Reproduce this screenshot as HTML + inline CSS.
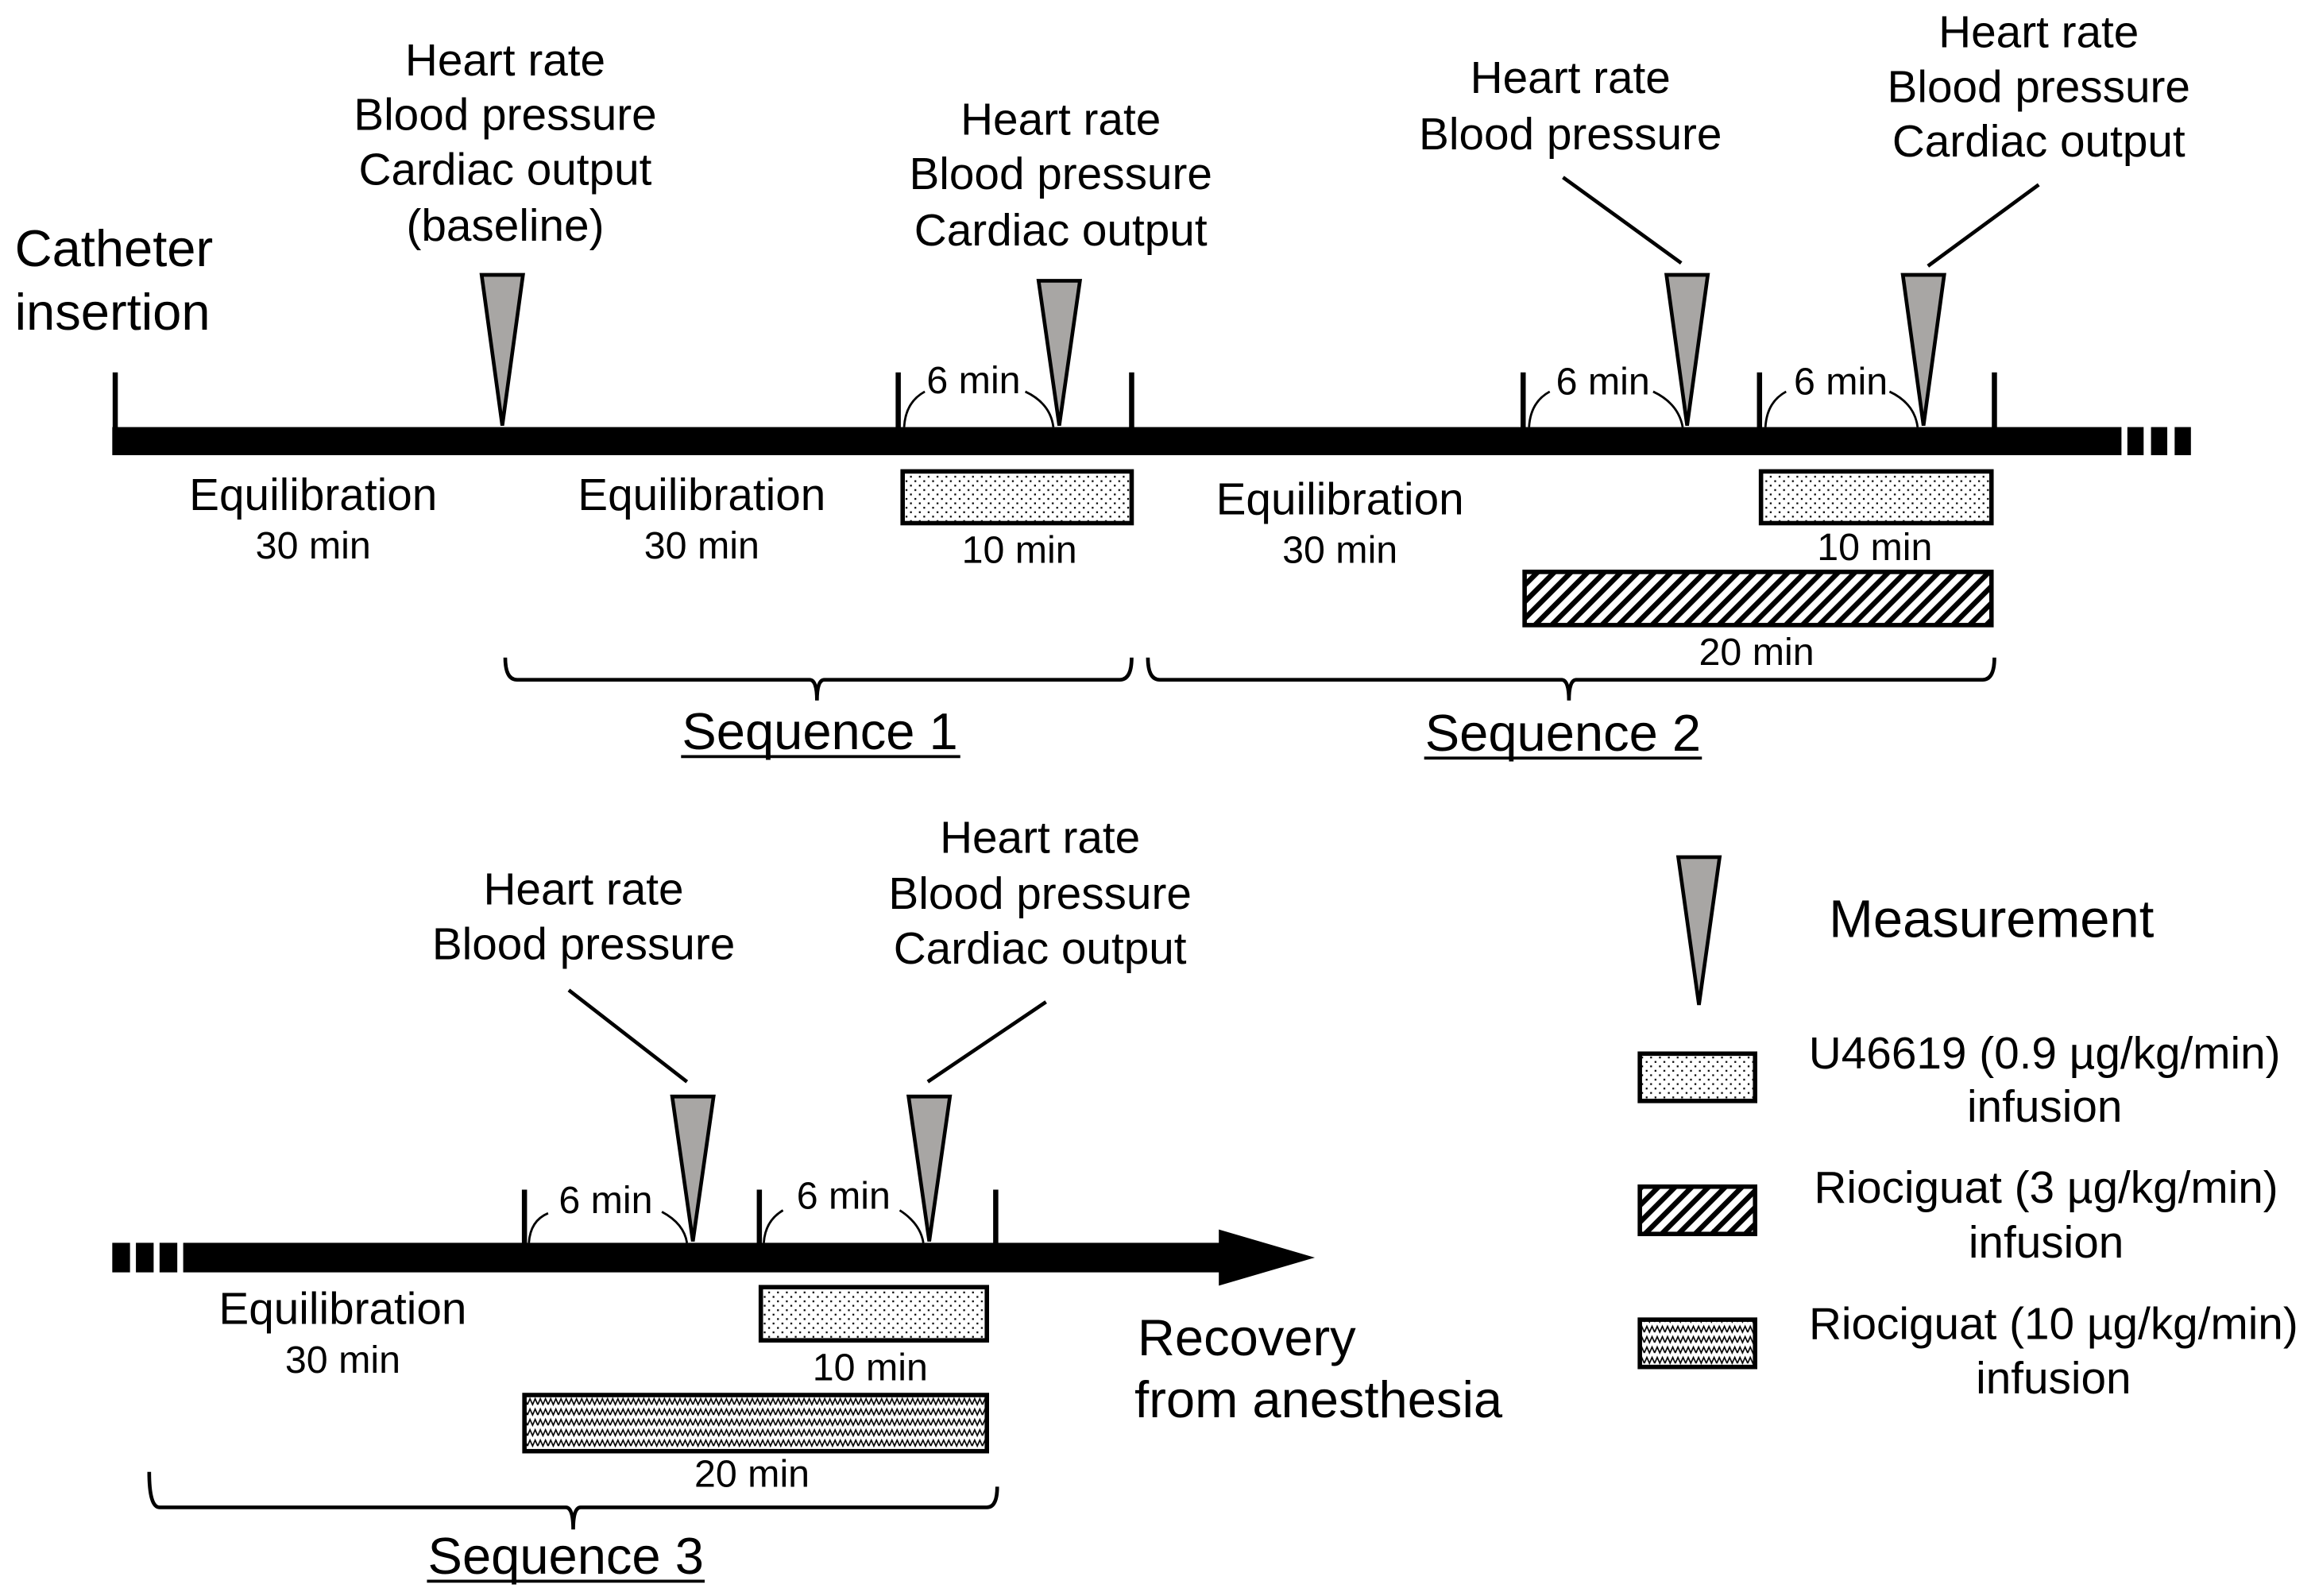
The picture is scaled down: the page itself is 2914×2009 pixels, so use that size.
<!DOCTYPE html>
<html><head><meta charset="utf-8"><style>html,body{margin:0;padding:0;background:#fff}svg{display:block}</style></head>
<body>
<svg width="2914" height="2009" viewBox="0 0 1567 1080" preserveAspectRatio="none" xmlns="http://www.w3.org/2000/svg" font-family="Liberation Sans, Arial, sans-serif">
<defs>
<pattern id="dots" width="6" height="6" patternUnits="userSpaceOnUse"><rect width="6" height="6" fill="#fff"/><rect x="1" y="1" width="1.2" height="1.2" fill="#000"/><rect x="4" y="4" width="1.2" height="1.2" fill="#000"/></pattern>
<pattern id="hatch" width="8" height="8" patternUnits="userSpaceOnUse" patternTransform="rotate(45)"><rect width="8" height="8" fill="#fff"/><rect width="3.5" height="8" fill="#000"/></pattern>
<pattern id="wave" width="7" height="7" patternUnits="userSpaceOnUse"><rect width="7" height="7" fill="#fff"/><path d="M0,5.5 L1.75,1.5 L3.5,5.5 L5.25,1.5 L7,5.5" fill="none" stroke="#000" stroke-width="0.9"/></pattern>
</defs>
<rect width="1567" height="1080" fill="#fff"/>
<g font-size="30.5" text-anchor="middle" fill="#000">
<text x="10" y="180" text-anchor="start" font-size="35">Catheter</text>
<text x="10" y="223" text-anchor="start" font-size="35">insertion</text>
<rect x="76" y="289" width="1360" height="19" fill="#000"/>
<rect x="1440" y="289" width="11" height="19"/><rect x="1456" y="289" width="11" height="19"/><rect x="1472" y="289" width="11" height="19"/>
<g stroke="#000" stroke-width="3.5">
<line x1="78" y1="252" x2="78" y2="290"/><line x1="608" y1="252" x2="608" y2="290"/><line x1="766" y1="252" x2="766" y2="290"/>
<line x1="1031" y1="252" x2="1031" y2="290"/><line x1="1191" y1="252" x2="1191" y2="290"/><line x1="1350" y1="252" x2="1350" y2="290"/>
</g>
<g fill="#a8a6a4" stroke="#000" stroke-width="2.5">
<polygon points="326,186 354,186 340,288"/>
<polygon points="703,190 731,190 717,288"/>
<polygon points="1128,186 1156,186 1142,288"/>
<polygon points="1288,186 1316,186 1302,288"/>
</g>
<g fill="none" stroke="#000" stroke-width="1.5">
<path d="M612,289 Q613,272 626,265"/><path d="M694,265 Q711,273 713,289"/>
<path d="M1035,289 Q1036,272 1049,265"/><path d="M1119,265 Q1136,273 1139,289"/>
<path d="M1195,289 Q1196,272 1209,265"/><path d="M1279,265 Q1296,273 1298,289"/>
<line x1="1058" y1="120" x2="1138" y2="178" stroke-width="2.5"/>
<line x1="1380" y1="125" x2="1305" y2="180" stroke-width="2.5"/>
</g>
<text x="342" y="51">Heart rate</text><text x="342" y="88">Blood pressure</text><text x="342" y="125">Cardiac output</text><text x="342" y="163">(baseline)</text>
<text x="718" y="91">Heart rate</text><text x="718" y="128">Blood pressure</text><text x="718" y="166">Cardiac output</text>
<text x="1063" y="63">Heart rate</text><text x="1063" y="101">Blood pressure</text>
<text x="1380" y="32">Heart rate</text><text x="1380" y="69">Blood pressure</text><text x="1380" y="106">Cardiac output</text>
<text x="659" y="266" font-size="26">6 min</text><text x="1085" y="267" font-size="26">6 min</text><text x="1246" y="267" font-size="26">6 min</text>
<text x="212" y="345">Equilibration</text><text x="212" y="378" font-size="26">30 min</text>
<text x="475" y="345">Equilibration</text><text x="475" y="378" font-size="26">30 min</text>
<text x="907" y="348">Equilibration</text><text x="907" y="381" font-size="26">30 min</text>
<rect x="611" y="319" width="155" height="35" fill="url(#dots)" stroke="#000" stroke-width="3"/>
<text x="690" y="381" font-size="26">10 min</text>
<rect x="1192" y="319" width="156" height="35" fill="url(#dots)" stroke="#000" stroke-width="3"/>
<text x="1269" y="379" font-size="26">10 min</text>
<rect x="1032" y="387" width="316" height="36" fill="url(#hatch)" stroke="#000" stroke-width="3"/>
<text x="1189" y="450" font-size="26">20 min</text>
<g fill="none" stroke="#000" stroke-width="2.5">
<path d="M342,445 Q342,460 350,460 L548,460 Q553,460 553,474 Q553,460 558,460 L758,460 Q766,460 766,445"/>
<path d="M777,445 Q777,460 785,460 L1057,460 Q1062,460 1062,474 Q1062,460 1067,460 L1342,460 Q1350,460 1350,445"/>
</g>
<text x="555" y="507" font-size="35">Sequence 1</text>
<line x1="461" y1="512" x2="650" y2="512" stroke="#000" stroke-width="2"/>
<text x="1058" y="508" font-size="35">Sequence 2</text>
<line x1="964" y1="513" x2="1152" y2="513" stroke="#000" stroke-width="2"/>

<rect x="76" y="841" width="12" height="20"/><rect x="92" y="841" width="12" height="20"/><rect x="108" y="841" width="12" height="20"/>
<rect x="124" y="841" width="703" height="20"/>
<polygon points="825,832 890,851 825,870" fill="#000"/>
<g stroke="#000" stroke-width="3.5">
<line x1="355" y1="805" x2="355" y2="842"/><line x1="514" y1="805" x2="514" y2="842"/><line x1="674" y1="805" x2="674" y2="842"/>
</g>
<g fill="#a8a6a4" stroke="#000" stroke-width="2.5">
<polygon points="455,742 483,742 469,840"/>
<polygon points="615,742 643,742 629,840"/>
</g>
<g fill="none" stroke="#000" stroke-width="1.5">
<path d="M358,841 Q359,826 371,821"/><path d="M448,820 Q463,828 465,841"/>
<path d="M517,841 Q518,826 530,819"/><path d="M609,819 Q623,828 625,841"/>
<line x1="385" y1="670" x2="465" y2="732" stroke-width="2.5"/>
<line x1="708" y1="678" x2="628" y2="732" stroke-width="2.5"/>
</g>
<text x="395" y="612">Heart rate</text><text x="395" y="649">Blood pressure</text>
<text x="704" y="577">Heart rate</text><text x="704" y="615">Blood pressure</text><text x="704" y="652">Cardiac output</text>
<text x="410" y="821" font-size="26">6 min</text><text x="571" y="818" font-size="26">6 min</text>
<text x="232" y="896">Equilibration</text><text x="232" y="929" font-size="26">30 min</text>
<rect x="515" y="871" width="153" height="36" fill="url(#dots)" stroke="#000" stroke-width="3"/>
<text x="589" y="934" font-size="26">10 min</text>
<rect x="355" y="944" width="313" height="38" fill="url(#wave)" stroke="#000" stroke-width="3"/>
<text x="509" y="1006" font-size="26">20 min</text>
<path d="M101,996 Q101,1020 108,1020 L383,1020 Q388,1020 388,1035 Q388,1020 393,1020 L668,1020 Q675,1020 675,1006" fill="none" stroke="#000" stroke-width="2.5"/>
<text x="383" y="1065" font-size="35">Sequence 3</text>
<line x1="289" y1="1070" x2="477" y2="1070" stroke="#000" stroke-width="2"/>
<text x="770" y="917" text-anchor="start" font-size="35">Recovery</text>
<text x="768" y="959" text-anchor="start" font-size="35">from anesthesia</text>

<polygon points="1136,580 1164,580 1150,680" fill="#a8a6a4" stroke="#000" stroke-width="2.5"/>
<text x="1348" y="634" font-size="36">Measurement</text>
<rect x="1110" y="713" width="78" height="32" fill="url(#dots)" stroke="#000" stroke-width="3"/>
<rect x="1110" y="803" width="78" height="32" fill="url(#hatch)" stroke="#000" stroke-width="3"/>
<rect x="1110" y="893" width="78" height="32" fill="url(#wave)" stroke="#000" stroke-width="3"/>
<text x="1384" y="723">U46619 (0.9 µg/kg/min)</text><text x="1384" y="759">infusion</text>
<text x="1385" y="814">Riociguat (3 µg/kg/min)</text><text x="1385" y="851">infusion</text>
<text x="1390" y="906">Riociguat (10 µg/kg/min)</text><text x="1390" y="943">infusion</text>
</g>
</svg>
</body></html>
